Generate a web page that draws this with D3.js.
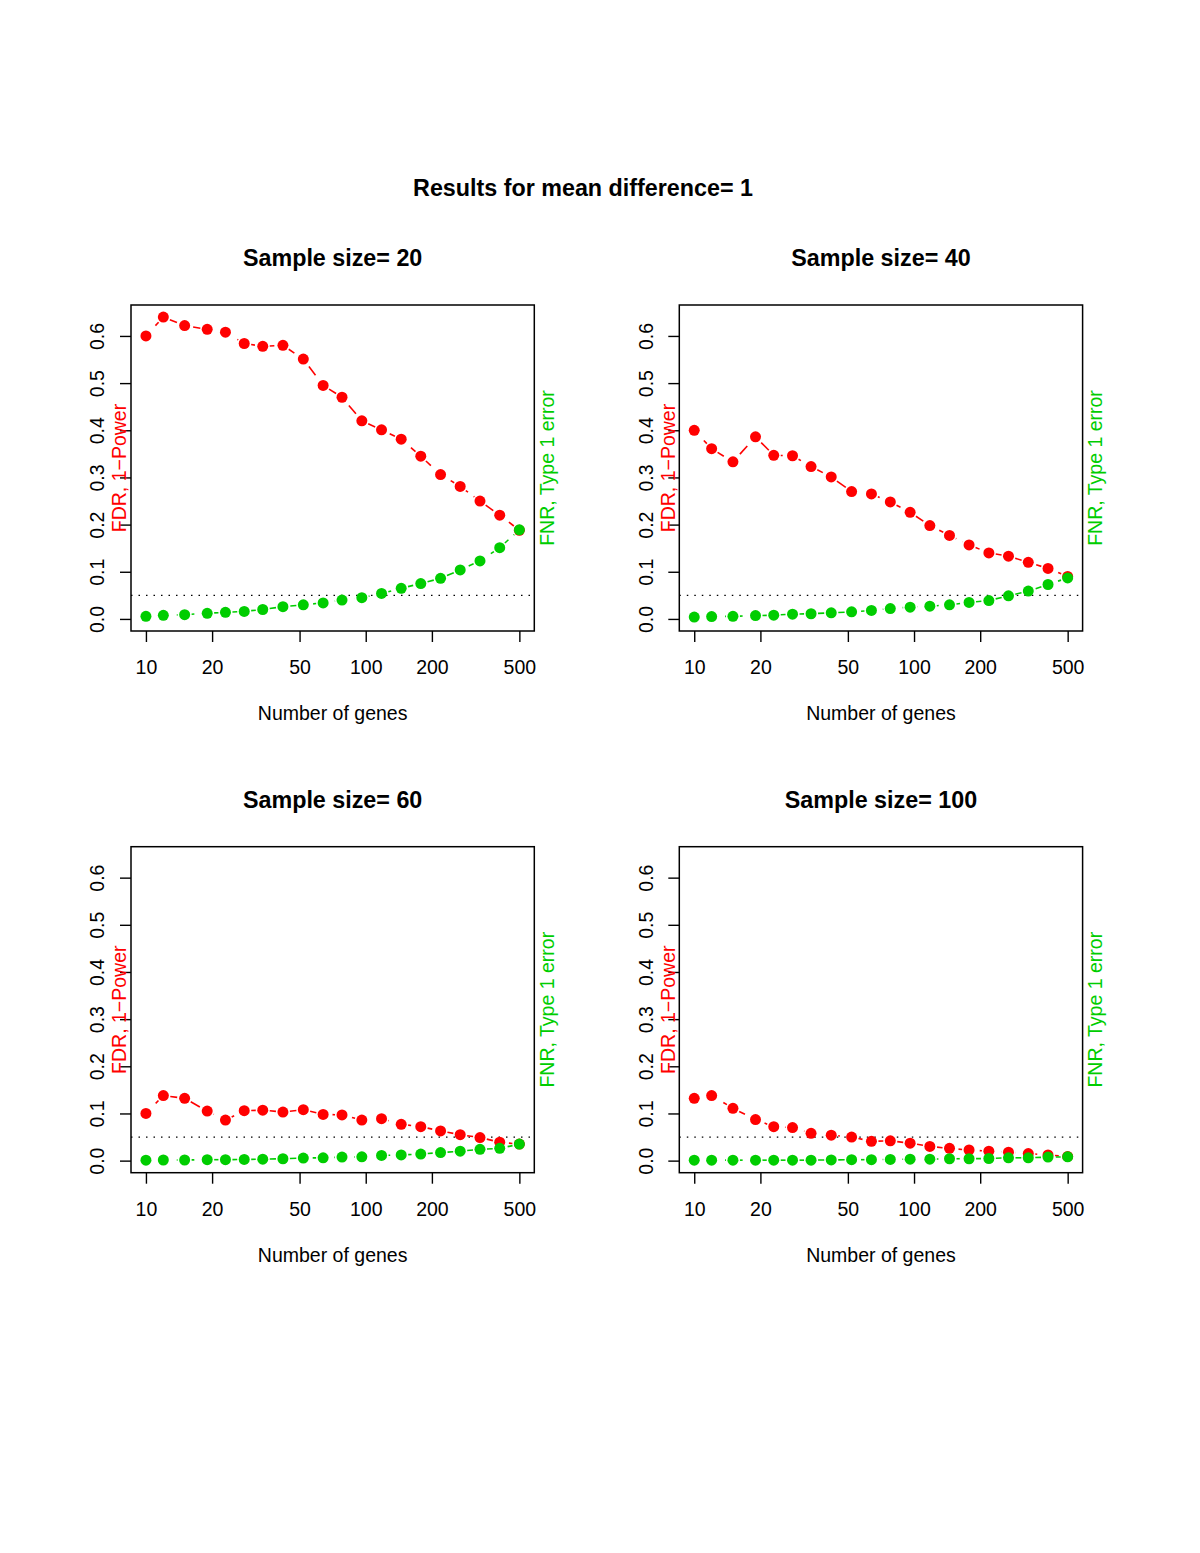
<!DOCTYPE html>
<html>
<head>
<meta charset="utf-8">
<script src="https://cdn.jsdelivr.net/npm/d3@7"></script>
<style>
  html, body { margin: 0; padding: 0; background: #fff; }
  text { font-family: "Liberation Sans", Arial, Helvetica, sans-serif; }
</style>
</head>
<body>
<svg id="chart" width="1200" height="1553"></svg>
<script>
// ---- data ----
const mainTitle = "Results for mean difference= 1";
const sampleSizes = [20, 40, 60, 100];
const genes = [10, 12, 15, 19, 23, 28, 34, 42, 52, 64, 78, 96, 118, 145, 178, 219, 269, 331, 407, 500];
const xTicks = [10, 20, 50, 100, 200, 500];
const yTicks = [0.0, 0.1, 0.2, 0.3, 0.4, 0.5, 0.6];
const refLine = 0.05;

const fdr20  = [0.600, 0.640, 0.622, 0.614, 0.608, 0.584, 0.578, 0.580, 0.551, 0.495, 0.470, 0.420, 0.401, 0.381, 0.345, 0.306, 0.281, 0.250, 0.220, 0.188];
const fnr20  = [0.0055, 0.0076, 0.009, 0.012, 0.014, 0.016, 0.020, 0.026, 0.030, 0.034, 0.040, 0.045, 0.054, 0.065, 0.075, 0.086, 0.104, 0.123, 0.151, 0.189];
const fdr40  = [0.400, 0.361, 0.333, 0.386, 0.347, 0.346, 0.323, 0.301, 0.270, 0.265, 0.248, 0.226, 0.198, 0.177, 0.157, 0.140, 0.133, 0.120, 0.107, 0.090];
const fnr40  = [0.004, 0.005, 0.0055, 0.007, 0.008, 0.010, 0.011, 0.013, 0.015, 0.018, 0.022, 0.025, 0.027, 0.030, 0.035, 0.039, 0.049, 0.059, 0.073, 0.087];
const fdr60  = [0.100, 0.138, 0.132, 0.105, 0.086, 0.106, 0.107, 0.103, 0.108, 0.098, 0.097, 0.086, 0.089, 0.077, 0.072, 0.063, 0.055, 0.049, 0.039, 0.035];
const fnr60  = [0.001, 0.0013, 0.0013, 0.002, 0.002, 0.0025, 0.003, 0.004, 0.0055, 0.006, 0.0075, 0.008, 0.011, 0.012, 0.014, 0.017, 0.020, 0.024, 0.026, 0.035];
const fdr100 = [0.132, 0.138, 0.111, 0.087, 0.072, 0.070, 0.058, 0.054, 0.050, 0.041, 0.042, 0.037, 0.030, 0.026, 0.0225, 0.020, 0.018, 0.015, 0.012, 0.009];
const fnr100 = [0.001, 0.001, 0.001, 0.001, 0.001, 0.001, 0.001, 0.0015, 0.002, 0.002, 0.0025, 0.003, 0.003, 0.004, 0.004, 0.0045, 0.006, 0.006, 0.0075, 0.008];

const fdrSeries = [fdr20, fdr40, fdr60, fdr100];
const fnrSeries = [fnr20, fnr40, fnr60, fnr100];

const xLabel = "Number of genes";
const yLabelLeft = "FDR, 1\u2212Power";
const yLabelRight = "FNR, Type 1 error";

// ---- layout ----
const RED = "#FF0000", GREEN = "#00CD00";
const FS = 19.5, FS_TITLE = 23.3;
const boxW = 403.3, boxH = 326;
const colX = [131, 679.3];
const rowY = [305, 846.7];

const svg = d3.select("#chart");
svg.append("rect").attr("width", 1200).attr("height", 1553).attr("fill", "#fff");

svg.append("text")
  .attr("x", 583).attr("y", 195.5)
  .attr("text-anchor", "middle")
  .attr("font-size", FS_TITLE).attr("font-weight", "bold")
  .text(mainTitle);

// R-style 4% extension of data ranges
const lx = [Math.log10(10), Math.log10(500)];
const ext = 0.04 * (lx[1] - lx[0]);
const xDom = [Math.pow(10, lx[0] - ext), Math.pow(10, lx[1] + ext)];
const yDom = [-0.0256, 0.6656];

sampleSizes.forEach((ss, i) => {
  const left = colX[i % 2], top = rowY[Math.floor(i / 2)];
  const g = svg.append("g");
  const x = d3.scaleLog().domain(xDom).range([left, left + boxW]);
  const y = d3.scaleLinear().domain(yDom).range([top + boxH, top]);
  const bottom = top + boxH;

  // title
  g.append("text")
    .attr("x", left + boxW / 2).attr("y", top - 39)
    .attr("text-anchor", "middle")
    .attr("font-size", FS_TITLE).attr("font-weight", "bold")
    .text("Sample size= " + ss);

  // x axis
  const xAxis = d3.axisBottom(x).tickValues(xTicks).tickFormat(d3.format("d")).tickSize(11).tickPadding(0);
  const xa = g.append("g").attr("transform", `translate(0,${bottom})`).call(xAxis);
  xa.select(".domain").remove();
  xa.selectAll(".tick line").attr("stroke", "#000").attr("stroke-width", 1.4);
  xa.selectAll(".tick text").attr("font-size", FS).attr("fill", "#000")
    .attr("font-family", "Liberation Sans, Arial, sans-serif")
    .attr("dy", null).attr("y", 43.3);

  // y axis
  const yAxis = d3.axisLeft(y).tickValues(yTicks).tickFormat(d3.format(".1f")).tickSize(11).tickPadding(0);
  const ya = g.append("g").attr("transform", `translate(${left},0)`).call(yAxis);
  ya.select(".domain").remove();
  ya.selectAll(".tick line").attr("stroke", "#000").attr("stroke-width", 1.4);
  ya.selectAll(".tick text").attr("font-size", FS).attr("fill", "#000")
    .attr("font-family", "Liberation Sans, Arial, sans-serif")
    .attr("x", null).attr("dy", null)
    .attr("text-anchor", "middle")
    .attr("transform", "translate(-26.7,0) rotate(-90)");

  // box
  g.append("rect").attr("x", left).attr("y", top).attr("width", boxW).attr("height", boxH)
    .attr("fill", "none").attr("stroke", "#000").attr("stroke-width", 1.5);

  // axis labels
  g.append("text")
    .attr("x", left + boxW / 2).attr("y", bottom + 89)
    .attr("text-anchor", "middle").attr("font-size", FS).text(xLabel);
  g.append("text")
    .attr("transform", `translate(${left - 4.7},${top + boxH / 2}) rotate(-90)`)
    .attr("text-anchor", "middle").attr("font-size", FS).attr("fill", RED).text(yLabelLeft);
  g.append("text")
    .attr("transform", `translate(${left + boxW + 19.7},${top + boxH / 2}) rotate(-90)`)
    .attr("text-anchor", "middle").attr("font-size", FS).attr("fill", GREEN).text(yLabelRight);

  // reference dotted line
  g.append("line")
    .attr("x1", left).attr("x2", left + boxW)
    .attr("y1", y(refLine)).attr("y2", y(refLine))
    .attr("stroke", "#000").attr("stroke-width", 1.3)
    .attr("stroke-dasharray", "1.5,6");

  // series (type "b": dashed segments with gaps around points)
  function drawSeries(vals, color) {
    const pts = genes.map((gn, k) => [x(gn), y(vals[k])]);
    const gap = 7;
    let cum = 0;
    for (let k = 0; k < pts.length - 1; k++) {
      const [x0, y0] = pts[k], [x1, y1] = pts[k + 1];
      const d = Math.hypot(x1 - x0, y1 - y0);
      if (d > 2 * gap) {
        const ux = (x1 - x0) / d, uy = (y1 - y0) / d;
        g.append("line")
          .attr("x1", x0 + ux * gap).attr("y1", y0 + uy * gap)
          .attr("x2", x1 - ux * gap).attr("y2", y1 - uy * gap)
          .attr("stroke", color).attr("stroke-width", 1.6)
          .attr("stroke-dasharray", "11,7")
          .attr("stroke-dashoffset", -(cum + gap));
      }
      cum += d;
    }
    g.selectAll(null).data(pts).enter().append("circle")
      .attr("cx", p => p[0]).attr("cy", p => p[1]).attr("r", 5.5)
      .attr("fill", color);
  }
  drawSeries(fdrSeries[i], RED);
  drawSeries(fnrSeries[i], GREEN);
});
</script>
</body>
</html>
